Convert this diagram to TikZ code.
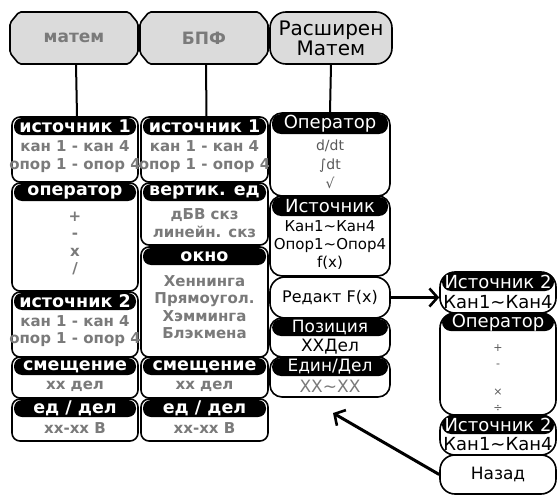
\documentclass[tikz,border=0pt]{standalone}
\usepackage{fontspec}
\setmainfont{DejaVu Sans}
\usetikzlibrary{arrows.meta}
\definecolor{txtgray}{gray}{0.48}
\definecolor{topfill}{gray}{0.86}
\newcommand\mnode[7]{\node[#1, minimum width={#5-#3}, minimum height={#6-#4}] (#2) at ({(#3+#5)/2},{(#4+#6)/2}) {#7};}
\newcommand\topbox[6]{\draw[ln, fill=topfill, rounded corners=2pt] (#2+9,#3) -- (#4-9,#3) -- (#4,#3+11) -- (#4,#5-11) -- (#4-9,#5) -- (#2+9,#5) -- (#2,#5-11) -- (#2,#3+11) -- cycle;
  \mnode{toptxt}{#1}{#2}{#3}{#4}{#5}{#6}}
\tikzset{
  ln/.style={line width=1.6pt},
  conn/.style={line width=2pt},
  toptxt/.style={inner sep=0pt, text=txtgray, font=\bfseries\fontsize{17}{17}\selectfont},
  toprr/.style={rectangle, rounded corners=16pt, draw, line width=1.6pt, fill=topfill, inner sep=0pt, align=center, font=\fontsize{20}{18}\selectfont},
  boxa/.style={draw, line width=1.6pt, rounded corners=8pt, fill=white, inner sep=0pt},
  boxb/.style={draw, line width=1.6pt, rounded corners=12pt, fill=white, inner sep=0pt},
  boxc/.style={draw, line width=1.6pt, rounded corners=15pt, fill=white, inner sep=0pt},
  hda/.style={fill=black, rounded corners=8pt, inner sep=0pt, text=white, font=\bfseries\fontsize{17.5}{17.5}\selectfont},
  hdb/.style={fill=black, rounded corners=9pt, inner sep=0pt, text=white, font=\fontsize{17}{17}\selectfont},
  hdc/.style={fill=black, rounded corners=9pt, inner sep=0pt, text=white, font=\fontsize{18}{18}\selectfont},
  ga/.style={inner sep=0pt, text=txtgray, align=center, font=\bfseries\fontsize{15}{17.5}\selectfont},
  gb/.style={inner sep=0pt, align=center, font=\fontsize{15}{18}\selectfont},
  gs/.style={inner sep=0pt, text=black!65, align=center, font=\fontsize{14}{19}\selectfont},
  arr/.style={line width=3pt, -{Straight Barb[length=8pt, width=18pt, line width=2.6pt]}}
}
\begin{document}
\begin{tikzpicture}[x=1pt,y=-1pt]
\useasboundingbox (0,0) rectangle (560,495);
% top row
\topbox{matem}{10}{12}{138}{64}{матем}
\topbox{bpf}{140}{12}{268}{64}{БПФ}
\mnode{toprr}{rasm}{270}{12}{392}{64}{Расширен\\Матем}
% column 1
\mnode{boxa}{c1a}{12}{117}{138}{182}{}
\mnode{hda}{c1ah}{14}{118}{136}{135}{источник 1}
\node[ga] (c1at) at (75,156.5) {кан 1 - кан 4\\опор 1 - опор 4};
\mnode{boxa}{c1b}{12}{183}{138}{291}{}
\mnode{hda}{c1bh}{14}{184}{136}{201}{оператор}
\node[ga] (c1bt) at (75,243.5) {+\\-\\x\\/};
\mnode{boxa}{c1c}{12}{292}{138}{357}{}
\mnode{hda}{c1ch}{14}{293}{136}{310}{источник 2}
\node[ga] (c1ct) at (75,331) {кан 1 - кан 4\\опор 1 - опор 4};
\mnode{boxa}{c1d}{12}{357}{138}{398}{}
\mnode{hda}{c1dh}{14}{358}{136}{375}{смещение}
\node[ga] (c1dt) at (75,386.5) {хх дел};
\mnode{boxa}{c1e}{12}{399}{138}{441}{}
\mnode{hda}{c1eh}{14}{400}{136}{417}{ед / дел}
\node[ga] (c1et) at (75,428.5) {xx-xx В};
% column 2
\mnode{boxa}{c2a}{141}{117}{268}{182}{}
\mnode{hda}{c2ah}{143}{118}{266}{135}{источник 1}
\node[ga] (c2at) at (204.5,156.5) {кан 1 - кан 4\\опор 1 - опор 4};
\mnode{boxa}{c2b}{141}{183}{268}{245}{}
\mnode{hda}{c2bh}{143}{184}{266}{201}{вертик. ед}
\node[ga] (c2bt) at (204.5,223) {дБВ скз\\линейн. скз};
\mnode{boxa}{c2c}{141}{247}{268}{357}{}
\mnode{hda}{c2ch}{143}{248}{266}{265}{окно}
\node[ga] (c2ct) at (204.5,307) {Хеннинга\\Прямоугол.\\Хэмминга\\Блэкмена};
\mnode{boxa}{c2d}{141}{357}{268}{398}{}
\mnode{hda}{c2dh}{143}{358}{266}{375}{смещение}
\node[ga] (c2dt) at (204.5,386.5) {хх дел};
\mnode{boxa}{c2e}{141}{399}{268}{441}{}
\mnode{hda}{c2eh}{143}{400}{266}{417}{ед / дел}
\node[ga] (c2et) at (204.5,428.5) {xx-xx В};
% column 3
\mnode{boxb}{c3a}{270}{113}{390}{196}{}
\mnode{hdc}{c3ah}{272}{114}{388}{134}{Оператор}
\node[gs] (c3at) at (330,164) {d/dt\\∫dt\\√};
\mnode{boxb}{c3b}{270}{196}{390}{276}{}
\mnode{hdc}{c3bh}{272}{197}{388}{216}{Источник}
\node[gb] (c3bt) at (330,245) {Кан1\textasciitilde Кан4\\Опор1\textasciitilde Опор4\\f(x)};
\mnode{boxc}{redakt}{270}{277}{390}{318}{\fontsize{16}{16}\selectfont Редакт F(x)}
\mnode{boxb}{c3d}{270}{318}{390}{357}{}
\mnode{hdb}{c3dh}{272}{319}{388}{336}{Позиция}
\node[gb, font=\fontsize{17}{17}\selectfont] (c3dt) at (330,346.5) {ХХДел};
\mnode{boxb}{c3e}{270}{357}{390}{397}{}
\mnode{hdb}{c3eh}{272}{358}{388}{376}{Един/Дел}
\node[gb, text=txtgray, font=\fontsize{17}{17}\selectfont] (c3et) at (330,386.5) {XX\textasciitilde XX};
% column 4
\mnode{boxc}{c4a}{440}{272}{556}{313}{}
\mnode{hdc}{c4ah}{442}{273}{554}{291}{Источник 2}
\node[gb, font=\fontsize{18}{18}\selectfont] (c4at) at (498,302.5) {Кан1\textasciitilde Кан4};
\mnode{boxc}{c4b}{440}{313}{556}{415}{}
\mnode{hdc}{c4bh}{442}{314}{554}{331}{Оператор}
\node[gs, font=\fontsize{11}{11}\selectfont] (p1) at (498,348) {+};
\node[gs, font=\fontsize{11}{11}\selectfont] (p2) at (498,366) {-};
\node[gs, font=\fontsize{11}{11}\selectfont] (p3) at (498,392) {×};
\node[gs, font=\fontsize{11}{11}\selectfont] (p4) at (498,408) {÷};
\mnode{boxc}{c4c}{440}{415}{556}{455}{}
\mnode{hdc}{c4ch}{442}{416}{554}{434}{Источник 2}
\node[gb, font=\fontsize{18}{18}\selectfont] (c4ct) at (498,444.5) {Кан1\textasciitilde Кан4};
\mnode{boxc}{nazad}{440}{455}{556}{494}{\fontsize{17}{17}\selectfont Назад}
% connectors
\draw[conn] ([xshift=2pt]matem.south) -- ([xshift=2pt]c1a.north);
\draw[conn] ([xshift=2pt]bpf.south) -- ([xshift=2pt]c2a.north);
\draw[conn] (rasm.south) -- (c3a.north);
\draw[arr] (redakt.east) -- (c4a.west |- redakt.east);
\coordinate (back) at (333,413);
\draw[arr] (nazad.west) -- (back);
\end{tikzpicture}
\end{document}
